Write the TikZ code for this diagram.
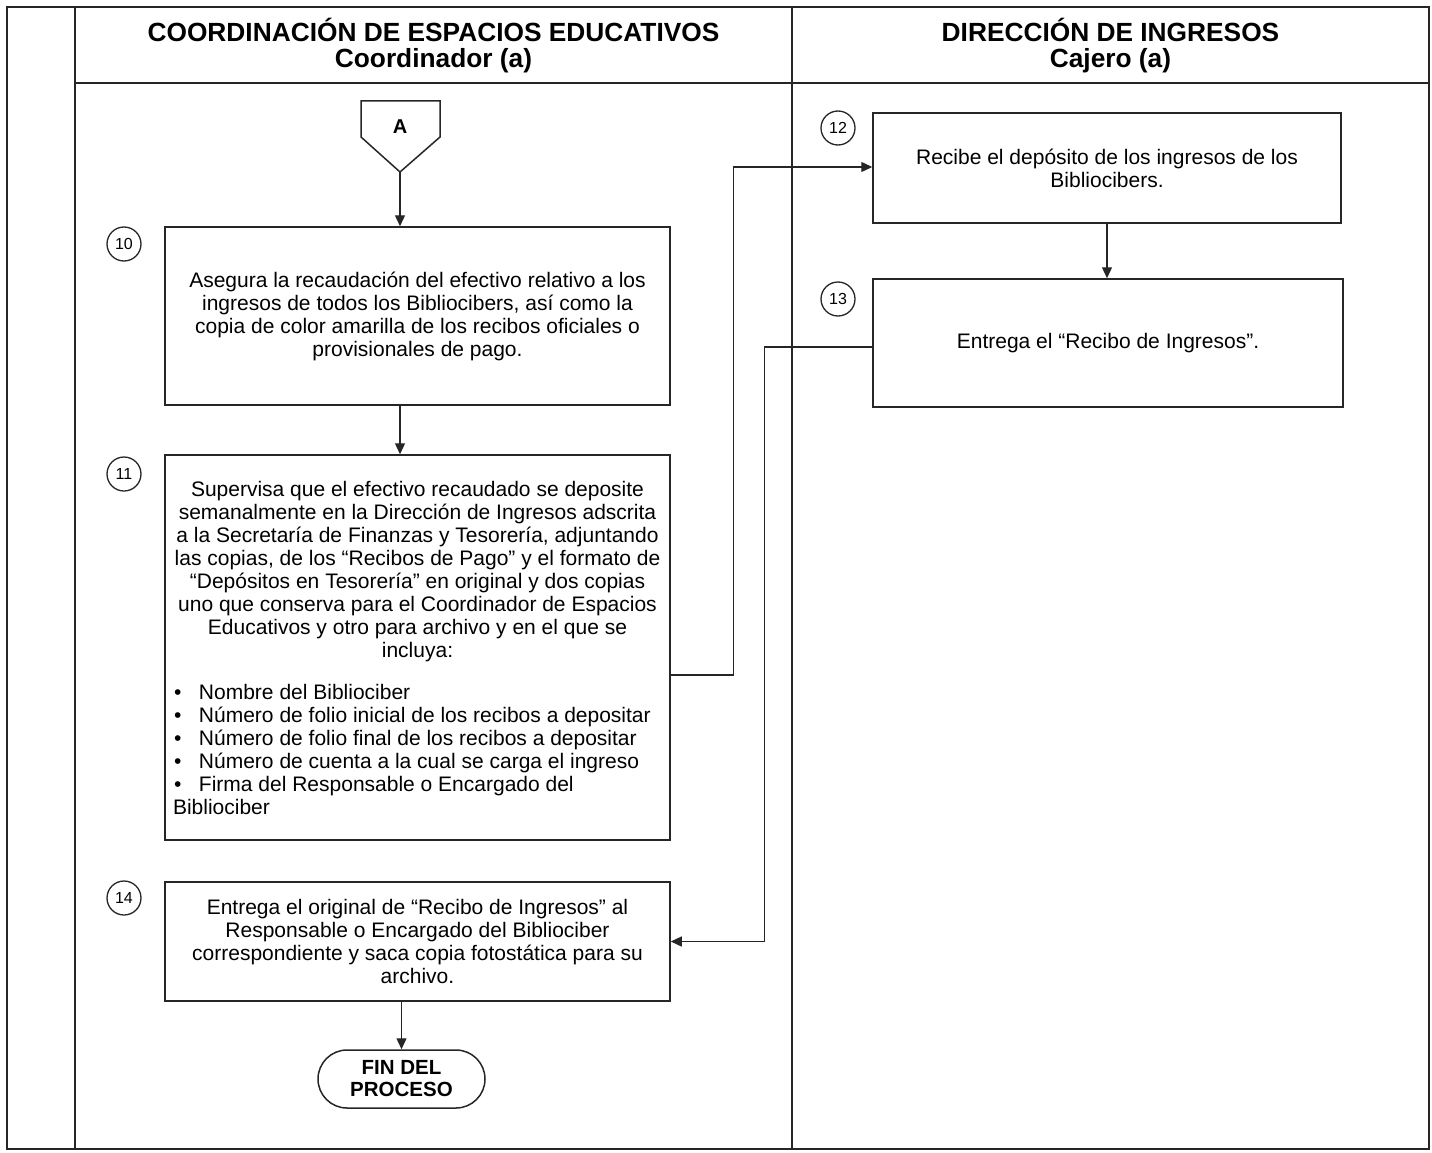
\documentclass[tikz,border=0pt]{standalone}
\usepackage{fontspec}
\setmainfont{Liberation Sans}
\usetikzlibrary{arrows.meta,shapes.misc}
\newcommand{\blt}{\makebox[26pt][l]{\hspace{1pt}\textbullet}}
\begin{document}
\begin{tikzpicture}[x=1pt,y=-1pt,
  frame/.style={line width=1.6pt,draw=black!85},
  stepbox/.style={draw=black!85,line width=1.5pt,rectangle,inner sep=0pt,
    align=center,font=\fontsize{21}{23}\selectfont},
  num/.style={draw=black!85,line width=1.3pt,circle,minimum size=34pt,inner sep=0pt,
    font=\fontsize{16}{16}\selectfont},
  head/.style={align=center,font=\bfseries\fontsize{26.3}{26}\selectfont},
  arr/.style={line width=1.3pt,draw=black!85,-{Triangle[length=11pt,width=10pt]}},
  lnk/.style={line width=1.3pt,draw=black!85}]
\useasboundingbox (0,0) rectangle (1432,1153);

% swimlane frame
\draw[frame] (7,7) rectangle (1429,1149);
\draw[frame] (75,7) -- (75,1149);
\draw[frame] (792,7) -- (792,1149);
\draw[frame] (75,83) -- (1429,83);

% lane headers
\node[head] (h1) at (433.5,46) {COORDINACIÓN DE ESPACIOS EDUCATIVOS\\Coordinador (a)};
\node[head] (h2) at (1110.5,46) {DIRECCIÓN DE INGRESOS\\Cajero (a)};

% off-page connector A
\draw[lnk,line width=1.5pt] (361,101) -- (440,101) -- (440,137) -- (400,172) -- (361,137) -- cycle;
\node[font=\bfseries\fontsize{20}{20}\selectfont] (A) at (400,127) {A};
\coordinate (Atip) at (400,172);

% steps of the coordinator
\node[stepbox,minimum width=505pt,minimum height=178pt] (b10) at (417.5,316)
  {Asegura la recaudación del efectivo relativo a los\\
   ingresos de todos los Bibliocibers, así como la\\
   copia de color amarilla de los recibos oficiales o\\
   provisionales de pago.};
\node[num] (n10) at (124,244) {10};

\node[stepbox,minimum width=505pt,minimum height=385pt] (b11) at (417.5,647.5)
  {\parbox{505pt}{\centering
   Supervisa que el efectivo recaudado se deposite\\
   semanalmente en la Dirección de Ingresos adscrita\\
   a la Secretaría de Finanzas y Tesorería, adjuntando\\
   las copias, de los “Recibos de Pago” y el formato de\\
   “Depósitos en Tesorería” en original y dos copias\\
   uno que conserva para el Coordinador de Espacios\\
   Educativos y otro para archivo y en el que se\\
   incluya:\par\vspace{19pt}
   \raggedright\leftskip=8pt
   \blt Nombre del Bibliociber\\
   \blt Número de folio inicial de los recibos a depositar\\
   \blt Número de folio final de los recibos a depositar\\
   \blt Número de cuenta a la cual se carga el ingreso\\
   \blt Firma del Responsable o Encargado del\\
   Bibliociber\par}};
\node[num] (n11) at (124,474) {11};

\node[stepbox,minimum width=505pt,minimum height=119pt] (b14) at (417.5,941.5)
  {Entrega el original de “Recibo de Ingresos” al\\
   Responsable o Encargado del Bibliociber\\
   correspondiente y saca copia fotostática para su\\
   archivo.};
\node[num] (n14) at (124,898) {14};

\node[draw=black!85,line width=1.5pt,rounded rectangle,minimum width=167pt,minimum height=58pt,
  inner sep=0pt,align=center,font=\bfseries\fontsize{20.5}{22}\selectfont] (fin) at (401.5,1079) {FIN DEL\\PROCESO};

% steps of the cashier
\node[stepbox,minimum width=468pt,minimum height=110pt] (b12) at (1107,168)
  {Recibe el depósito de los ingresos de los\\Bibliocibers.};
\node[num] (n12) at (838,128) {12};

\node[stepbox,minimum width=470pt,minimum height=128pt] (b13) at (1108,343)
  {Entrega el “Recibo de Ingresos”.};
\node[num] (n13) at (838,299) {13};

% connectors
\draw[arr] (Atip) -- (Atip |- b10.north);
\draw[arr] (b10.south -| Atip) -- (b11.north -| Atip);
\draw[arr] (b14.south -| fin) -- (fin.north);
\draw[arr] ([yshift=-27.5pt]b11.east) -- ++(63,0) |- ([yshift=1pt]b12.west);
\draw[arr] (b12.south) -- (b12.south |- b13.north);
\draw[arr] ([yshift=-4pt]b13.west) -- ++(-108,0) |- (b14.east);
\end{tikzpicture}
\end{document}
